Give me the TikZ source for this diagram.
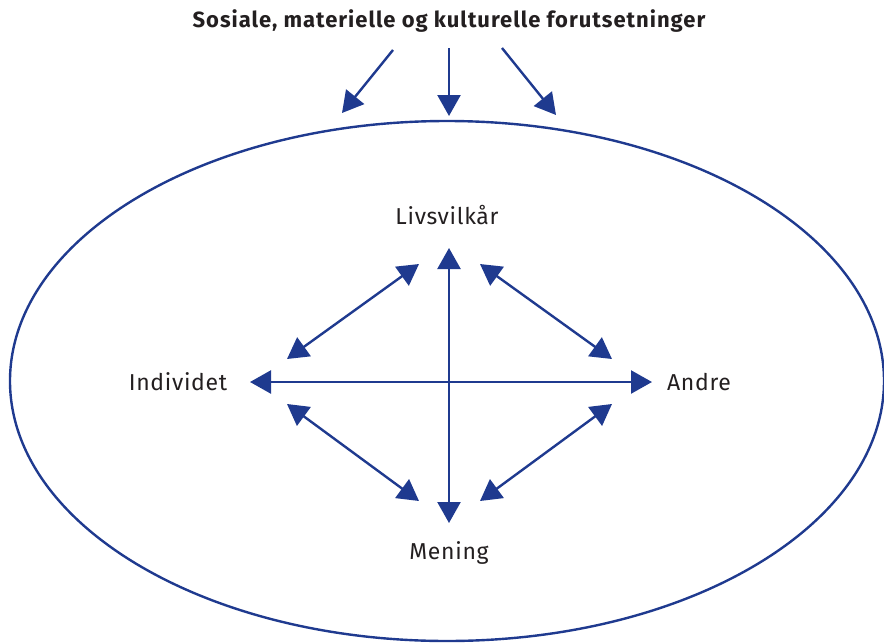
\documentclass[tikz,border=0pt]{standalone}
\usepackage{fontspec}
\setmainfont{Fira Sans}
\usepackage{tikz}
\usetikzlibrary{arrows.meta}
\definecolor{linkblue}{RGB}{31,58,143}
\definecolor{textgray}{RGB}{35,31,32}

\begin{document}
\begin{tikzpicture}[
        x=1pt, y=-1pt,
        label/.style={text=textgray, font=\fontsize{23}{27}\selectfont\addfontfeatures{LetterSpace=3}, inner sep=0pt},
        arrow/.style={-{Triangle[length=21pt, width=23pt]}, line width=2.4pt, draw=linkblue, fill=linkblue},
        twoway/.style={arrow, {Triangle[length=21pt, width=23pt]}-{Triangle[length=21pt, width=23pt]}}
    ]
        \useasboundingbox (0,0) rectangle (884,643);

        % Frame
        \draw[linkblue, line width=2.4pt] (447,381) ellipse [x radius=437, y radius=260];

        % Labels
        \node[label, font=\fontsize{22}{26}\selectfont\bfseries\addfontfeatures{LetterSpace=4.5}] (title) at (449,21) {Sosiale, materielle og kulturelle forutsetninger};
        \node[label] (livs) at (447,215) {Livsvilkår};
        \node[label] (indiv) at (178,382) {Individet};
        \node[label] (andre) at (699,382) {Andre};
        \node[label] (mening) at (449,553) {Mening};

        % Arrow ends
        \coordinate (t1) at (393,50);
        \coordinate (t2) at (449,48);
        \coordinate (t3) at (502,48);
        \coordinate (e1) at (342,113);
        \coordinate (e2) at (449,116);
        \coordinate (e3) at (556,115);
        \coordinate (up) at (449,248);
        \coordinate (down) at (449,523);
        \coordinate (left) at (250,382);
        \coordinate (right) at (652,382);
        \coordinate (ul1) at (287,359);
        \coordinate (ul2) at (419,264);
        \coordinate (ur1) at (480,264);
        \coordinate (ur2) at (612,359);
        \coordinate (ll1) at (287,404);
        \coordinate (ll2) at (419,501);
        \coordinate (lr1) at (480,501);
        \coordinate (lr2) at (612,404);

        % Arrows
        \draw[arrow] (t1) -- (e1);
        \draw[arrow] (t2) -- (e2);
        \draw[arrow] (t3) -- (e3);
        \draw[twoway] (up) -- (down);
        \draw[twoway] (left) -- (right);
        \draw[twoway] (ul1) -- (ul2);
        \draw[twoway] (ur1) -- (ur2);
        \draw[twoway] (ll1) -- (ll2);
        \draw[twoway] (lr1) -- (lr2);

    \end{tikzpicture}
\end{document}
